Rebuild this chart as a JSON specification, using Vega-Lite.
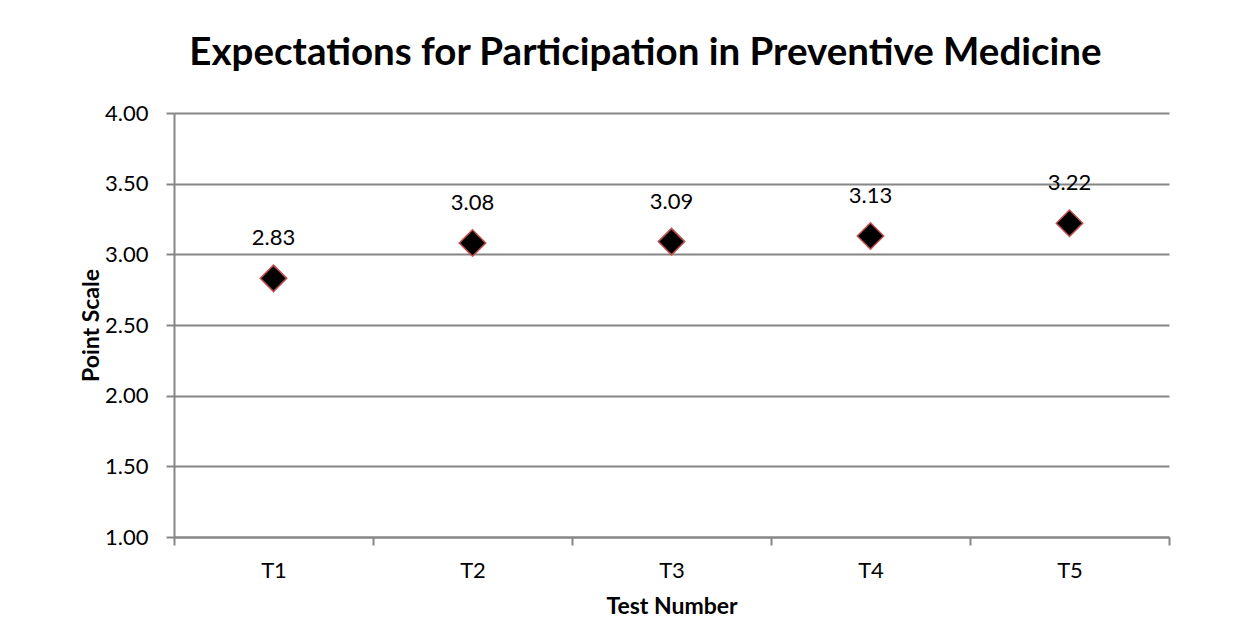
{
  "$schema": "https://vega.github.io/schema/vega-lite/v6.json",
  "autosize": {"type": "none"},
  "width": 995,
  "height": 424,
  "padding": {"left": 174, "top": 113, "right": 83, "bottom": 86},
  "background": "white",
  "title": {
    "text": "Expectations for Participation in Preventive Medicine",
    "font": "Lato",
    "fontSize": 38.5,
    "fontWeight": "bold",
    "color": "#000000",
    "anchor": "middle",
    "frame": "group",
    "dx": -26,
    "offset": 29
  },
  "data": {
    "values": [
      {"test": "T1", "score": 2.83},
      {"test": "T2", "score": 3.08},
      {"test": "T3", "score": 3.09},
      {"test": "T4", "score": 3.13},
      {"test": "T5", "score": 3.22}
    ]
  },
  "encoding": {
    "x": {
      "field": "test",
      "type": "nominal",
      "sort": null,
      "title": "Test Number",
      "scale": {"paddingInner": 0, "paddingOuter": 0},
      "axis": {
        "labelAngle": 0,
        "tickBand": "extent",
        "tickSize": 8,
        "labelPadding": 15,
        "titlePadding": 14,
        "grid": false
      }
    },
    "y": {
      "field": "score",
      "type": "quantitative",
      "title": "Point Scale",
      "scale": {"domain": [1, 4], "nice": false, "zero": false},
      "axis": {
        "values": [1, 1.5, 2, 2.5, 3, 3.5, 4],
        "format": ".2f",
        "tickSize": 8,
        "labelPadding": 18,
        "titlePadding": 1,
        "grid": true
      }
    }
  },
  "layer": [
    {
      "mark": {
        "type": "point",
        "shape": "diamond",
        "filled": true,
        "size": 700,
        "fill": "#000000",
        "stroke": "#c0504d",
        "strokeWidth": 1.5,
        "opacity": 1
      }
    },
    {
      "mark": {
        "type": "text",
        "font": "Lato",
        "fontSize": 22,
        "color": "#000000",
        "baseline": "alphabetic",
        "align": "center",
        "dy": -33
      },
      "encoding": {
        "text": {"field": "score", "type": "quantitative", "format": ".2f"}
      }
    }
  ],
  "config": {
    "view": {"stroke": null},
    "axis": {
      "labelFont": "Lato",
      "labelFontSize": 22,
      "labelColor": "#000000",
      "titleFont": "Lato",
      "titleFontSize": 23,
      "titleFontWeight": "bold",
      "titleColor": "#000000",
      "domainColor": "#868686",
      "domainWidth": 2,
      "tickColor": "#868686",
      "tickWidth": 2,
      "gridColor": "#868686",
      "gridWidth": 2,
      "gridOpacity": 1
    }
  }
}
